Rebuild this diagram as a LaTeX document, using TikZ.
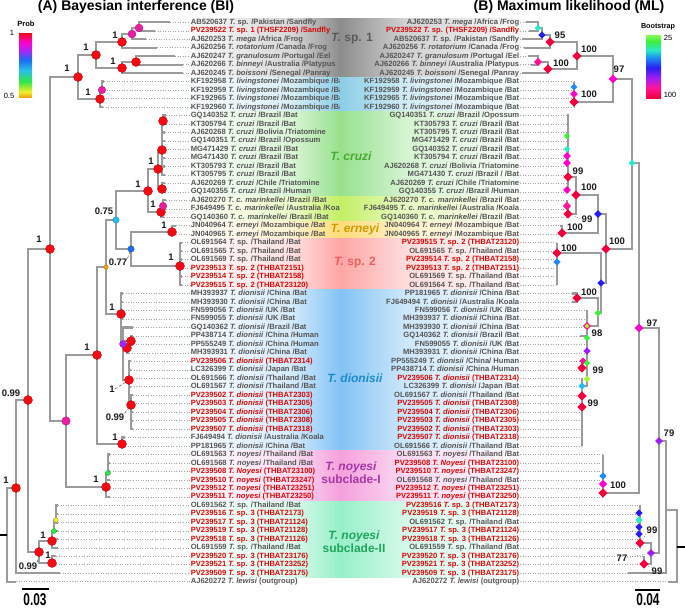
\documentclass[tikz,border=0pt]{standalone}
\usepackage{fontspec}
\setmainfont{Liberation Sans}
\usetikzlibrary{shapes.geometric}
\definecolor{brc}{RGB}{155,155,155}
\definecolor{ldc}{RGB}{165,165,165}
\definecolor{lbl}{RGB}{85,85,85}
\definecolor{lred}{RGB}{212,8,8}
\definecolor{vl}{RGB}{25,25,25}
\definecolor{dRed}{RGB}{245,10,20}
\definecolor{dPink}{RGB}{235,30,160}
\definecolor{dCyan}{RGB}{40,190,235}
\definecolor{dBlue}{RGB}{25,110,240}
\definecolor{dOrange}{RGB}{240,165,20}
\definecolor{dPurple}{RGB}{165,40,245}
\definecolor{dGreen}{RGB}{50,230,70}
\definecolor{dYellow}{RGB}{240,240,40}
\definecolor{mRed}{RGB}{240,0,60}
\definecolor{mPink}{RGB}{255,20,150}
\definecolor{mMag}{RGB}{255,0,200}
\definecolor{mBlue}{RGB}{40,30,245}
\definecolor{mAzure}{RGB}{30,140,245}
\definecolor{mCyan}{RGB}{40,235,200}
\definecolor{mGreen}{RGB}{60,240,60}
\definecolor{mLime}{RGB}{160,245,40}
\definecolor{mPurple}{RGB}{160,30,245}
\definecolor{bLime}{RGB}{140,250,90}
\definecolor{kSpA}{RGB}{140,140,140}
\definecolor{kLiv}{RGB}{140,205,230}
\definecolor{kCru}{RGB}{150,225,140}
\definecolor{kMar}{RGB}{195,240,100}
\definecolor{kErn}{RGB}{255,220,120}
\definecolor{kSpB}{RGB}{255,165,165}
\definecolor{kDio}{RGB}{130,195,245}
\definecolor{kNoA}{RGB}{245,160,220}
\definecolor{kNoB}{RGB}{150,240,200}
\definecolor{gSpA}{RGB}{90,90,90}
\definecolor{gCru}{RGB}{70,170,50}
\definecolor{gErn}{RGB}{205,155,0}
\definecolor{gSpB}{RGB}{240,95,95}
\definecolor{gDio}{RGB}{25,140,200}
\definecolor{gNoA}{RGB}{165,55,165}
\definecolor{gNoB}{RGB}{30,165,90}
\pgfdeclareverticalshading{probbar}{100bp}{color(0bp)=(dOrange); color(25bp)=(dOrange); color(29bp)=(dYellow); color(37bp)=(dGreen); color(46bp)=(dCyan); color(54bp)=(dBlue); color(61bp)=(dPurple); color(68bp)=(mMag); color(75bp)=(dRed); color(100bp)=(dRed)}
\pgfdeclareverticalshading{bootbar}{100bp}{color(0bp)=(mRed); color(25bp)=(mRed); color(33bp)=(mPink); color(41bp)=(mPurple); color(49bp)=(mBlue); color(57bp)=(mAzure); color(63bp)=(mCyan); color(70bp)=(mGreen); color(75bp)=(bLime); color(100bp)=(bLime)}
\pgfmathdeclarefunction{rowy}{1}{\pgfmathparse{22.3+(#1-1)*8.476}}
\tikzset{
 leaf/.style={font=\fontsize{7.6}{8}\selectfont\bfseries, inner sep=0.6pt, text height=5.6pt, text depth=1.6pt},
 leader/.style={draw=ldc, line width=0.55pt, dotted},
 branch/.style={draw=brc, line width=2.3pt},
 bidot/.style={circle, fill=#1, draw=#1!70!black, line width=0.3pt, inner sep=0pt, minimum size=9pt},
 mldia/.style={diamond, fill=#1, inner sep=0pt, minimum size=9.5pt},
 vlab/.style={font=\fontsize{9.5}{10}\selectfont\bfseries, text=vl, inner sep=0pt},
 grp/.style={font=\fontsize{12}{13}\selectfont\bfseries, inner sep=0pt, align=center},
 ttl/.style={font=\fontsize{14}{15}\selectfont\bfseries, inner sep=0pt},
 cbl/.style={font=\fontsize{7.5}{8}\selectfont, inner sep=0pt},
 sbl/.style={font=\fontsize{17}{18}\selectfont\bfseries, inner sep=0pt},
 nlead/.style={draw=black!80, line width=0.4pt, densely dashed},
 mlead/.style={draw=black!80, line width=0.5pt, dotted},
}
\newcommand\leftleaf[4]{%
 \coordinate (Lt#1) at (#2,{rowy(#1)});
 \node[leaf,text=#3,anchor=west] (LL#1) at (190,{rowy(#1)}) {#4};
 \draw[leader] (Lt#1) -- (LL#1.west);}
\newcommand\rightleaf[4]{%
 \coordinate (Rt#1) at (#2,{rowy(#1)});
 \node[leaf,text=#3,anchor=east] (RL#1) at (520,{rowy(#1)}) {#4};
 \draw[leader] (RL#1.east) -- (Rt#1);}
\newcommand\lband[3]{%
 \shade[left color=white,right color=#3!35] (178,{rowy(#1)-4.24}) rectangle (292,{rowy(#2)+4.24});
 \shade[left color=#3!35,right color=#3] (292,{rowy(#1)-4.24}) rectangle (340.5,{rowy(#2)+4.24});}
\newcommand\rband[3]{%
 \shade[left color=#3,right color=#3!40] (340,{rowy(#1)-4.24}) rectangle (405,{rowy(#2)+4.24});
 \shade[left color=#3!40,right color=#3!6] (405,{rowy(#1)-4.24}) rectangle (521,{rowy(#2)+4.24});}
\newcommand\kids[2]{\foreach \kk in {#2}{\draw[branch] (#1) |- (\kk);}}
\newcommand\kidrange[4]{\foreach \kk in {#3,...,#4}{\draw[branch] (#1) |- (#2\kk);}}
\begin{document}
\begin{tikzpicture}[x=1pt,y=-1pt]
\useasboundingbox (0,0) rectangle (685,608);
% ---------- left bands
\lband{1}{7}{kSpA}\lband{8}{11}{kLiv}\lband{12}{21}{kCru}\lband{22}{24}{kMar}\lband{25}{26}{kErn}
\lband{27}{32}{kSpB}\lband{33}{51}{kDio}\lband{52}{57}{kNoA}\lband{58}{66}{kNoB}
% ---------- left leaves
\leftleaf{1}{170}{lbl}{AB520637 \textit{T.} sp. /Pakistan /Sandfly}
\leftleaf{2}{155}{lred}{PV239522 \textit{T.} sp. 1 (THSF2209) /Sandfly}
\leftleaf{3}{146}{lbl}{AJ620253 \textit{T. mega} /Africa /Frog}
\leftleaf{4}{157}{lbl}{AJ620256 \textit{T. rotatorium} /Canada /Frog}
\leftleaf{5}{175}{lbl}{AJ620247 \textit{T. granulosum} /Portugal /Eel}
\leftleaf{6}{183}{lbl}{AJ620266 \textit{T. binneyi} /Australia /Platypus}
\leftleaf{7}{183}{lbl}{AJ620245 \textit{T. boissoni} /Senegal /Panray}
\leftleaf{8}{104}{lbl}{KF192958 \textit{T. livingstonei} /Mozambique /Bat}
\leftleaf{9}{104}{lbl}{KF192959 \textit{T. livingstonei} /Mozambique /Bat}
\leftleaf{10}{103}{lbl}{KF192965 \textit{T. livingstonei} /Mozambique /Bat}
\leftleaf{11}{103}{lbl}{KF192960 \textit{T. livingstonei} /Mozambique /Bat}
\leftleaf{12}{166}{lbl}{GQ140352 \textit{T. cruzi} /Brazil /Bat}
\leftleaf{13}{166}{lbl}{KT305794 \textit{T. cruzi} /Brazil /Bat}
\leftleaf{14}{165}{lbl}{AJ620268 \textit{T. cruzi} /Bolivia /Triatomine}
\leftleaf{15}{165}{lbl}{GQ140351 \textit{T. cruzi} /Brazil /Opossum}
\leftleaf{16}{165}{lbl}{MG471429 \textit{T. cruzi} /Brazil /Bat}
\leftleaf{17}{165}{lbl}{MG471430 \textit{T. cruzi} /Brazil /Bat}
\leftleaf{18}{165}{lbl}{KT305793 \textit{T. cruzi} /Brazil /Bat}
\leftleaf{19}{165}{lbl}{KT305795 \textit{T. cruzi} /Brazil /Bat}
\leftleaf{20}{165}{lbl}{AJ620269 \textit{T. cruzi} /Chile /Triatomine}
\leftleaf{21}{165}{lbl}{GQ140355 \textit{T. cruzi} /Brazil /Human}
\leftleaf{22}{166}{lbl}{AJ620270 \textit{T. c. marinkellei} /Brazil /Bat}
\leftleaf{23}{166}{lbl}{FJ649495 \textit{T. c. marinkellei} /Australia /Koala}
\leftleaf{24}{164}{lbl}{GQ140360 \textit{T. c. marinkellei} /Brazil /Bat}
\leftleaf{25}{176}{lbl}{JN040964 \textit{T. erneyi} /Mozambique /Bat}
\leftleaf{26}{176}{lbl}{JN040965 \textit{T. erneyi} /Mozambique /Bat}
\leftleaf{27}{182}{lbl}{OL691564 \textit{T.} sp. /Thailand /Bat}
\leftleaf{28}{182}{lbl}{OL691565 \textit{T.} sp. /Thailand /Bat}
\leftleaf{29}{182}{lbl}{OL691569 \textit{T.} sp. /Thailand /Bat}
\leftleaf{30}{182}{lred}{PV239513 \textit{T.} sp. 2 (THBAT2151)}
\leftleaf{31}{182}{lred}{PV239514 \textit{T.} sp. 2 (THBAT2158)}
\leftleaf{32}{182}{lred}{PV239515 \textit{T.} sp. 2 (THBAT23120)}
\leftleaf{33}{123}{lbl}{MH393937 \textit{T. dionisii} /China /Bat}
\leftleaf{34}{123}{lbl}{MH393930 \textit{T. dionisii} /China /Bat}
\leftleaf{35}{123}{lbl}{FN599056 \textit{T. dionisii} /UK /Bat}
\leftleaf{36}{123}{lbl}{FN599055 \textit{T. dionisii} /UK /Bat}
\leftleaf{37}{133}{lbl}{GQ140362 \textit{T. dionisii} /Brazil /Bat}
\leftleaf{38}{133}{lbl}{PP438714 \textit{T. dionisii} /China /Human}
\leftleaf{39}{133}{lbl}{PP555249 \textit{T. dionisii} /China /Human}
\leftleaf{40}{129}{lbl}{MH393931 \textit{T. dionisii} /China /Bat}
\leftleaf{41}{131}{lred}{PV239506 \textit{T. dionisii} (THBAT2314)}
\leftleaf{42}{131}{lbl}{LC326399 \textit{T. dionisii} /Japan /Bat}
\leftleaf{43}{131}{lbl}{OL691566 \textit{T. dionisii} /Thailand /Bat}
\leftleaf{44}{131}{lbl}{OL691567 \textit{T. dionisii} /Thailand /Bat}
\leftleaf{45}{133}{lred}{PV239502 \textit{T. dionisii} (THBAT2303)}
\leftleaf{46}{133}{lred}{PV239503 \textit{T. dionisii} (THBAT2305)}
\leftleaf{47}{133}{lred}{PV239504 \textit{T. dionisii} (THBAT2306)}
\leftleaf{48}{133}{lred}{PV239505 \textit{T. dionisii} (THBAT2308)}
\leftleaf{49}{133}{lred}{PV239507 \textit{T. dionisii} (THBAT2318)}
\leftleaf{50}{125}{lbl}{FJ649494 \textit{T. dionisii} /Australia /Koala}
\leftleaf{51}{125}{lbl}{PP181965 \textit{T. dionisii} /China /Bat}
\leftleaf{52}{110}{lbl}{OL691563 \textit{T. noyesi} /Thailand /Bat}
\leftleaf{53}{110}{lbl}{OL691568 \textit{T. noyesi} /Thailand /Bat}
\leftleaf{54}{110}{lred}{PV239508 \textit{T. Noyesi} (THBAT23100)}
\leftleaf{55}{110}{lred}{PV239510 \textit{T. noyesi} (THBAT23247)}
\leftleaf{56}{110}{lred}{PV239512 \textit{T. noyesi} (THBAT23251)}
\leftleaf{57}{110}{lred}{PV239511 \textit{T. noyesi} (THBAT23250)}
\leftleaf{58}{58}{lbl}{OL691562 \textit{T.} sp. /Thailand /Bat}
\leftleaf{59}{58}{lred}{PV239516 \textit{T.} sp. 3 (THBAT2173)}
\leftleaf{60}{58}{lred}{PV239517 \textit{T.} sp. 3 (THBAT21124)}
\leftleaf{61}{58}{lred}{PV239519 \textit{T.} sp. 3 (THBAT21128)}
\leftleaf{62}{58}{lred}{PV239518 \textit{T.} sp. 3 (THBAT21126)}
\leftleaf{63}{58}{lbl}{OL691559 \textit{T.} sp. /Thailand /Bat}
\leftleaf{64}{56}{lred}{PV239520 \textit{T.} sp. 3 (THBAT23176)}
\leftleaf{65}{56}{lred}{PV239521 \textit{T.} sp. 3 (THBAT23252)}
\leftleaf{66}{60}{lred}{PV239509 \textit{T.} sp. 3 (THBAT23175)}
\leftleaf{67}{16}{lbl}{AJ620272 \textit{T. lewisi} (outgroup)}
% ---------- right bands
\rband{1}{7}{kSpA}\rband{8}{11}{kLiv}\rband{12}{21}{kCru}\rband{22}{24}{kMar}\rband{25}{26}{kErn}
\rband{27}{32}{kSpB}\rband{33}{51}{kDio}\rband{52}{57}{kNoA}\rband{58}{66}{kNoB}
% ---------- right leaves
\rightleaf{1}{526}{lbl}{AJ620253 \textit{T. mega} /Africa /Frog}
\rightleaf{2}{529}{lred}{PV239522 \textit{T.} sp. (THSF2209) /Sandfly}
\rightleaf{3}{522}{lbl}{AB520637 \textit{T.} sp. /Pakistan /Sandfly}
\rightleaf{4}{524}{lbl}{AJ620256 \textit{T. rotatorium} /Canada /Frog}
\rightleaf{5}{528}{lbl}{AJ620247 \textit{T. granulosum} /Portugal /Eel}
\rightleaf{6}{531}{lbl}{AJ620266 \textit{T. binneyi} /Australia /Platypus}
\rightleaf{7}{522}{lbl}{AJ620245 \textit{T. boissoni} /Senegal /Panray}
\rightleaf{8}{574}{lbl}{KF192958 \textit{T. livingstonei} /Mozambique /Bat}
\rightleaf{9}{574}{lbl}{KF192959 \textit{T. livingstonei} /Mozambique /Bat}
\rightleaf{10}{574}{lbl}{KF192965 \textit{T. livingstonei} /Mozambique /Bat}
\rightleaf{11}{574}{lbl}{KF192960 \textit{T. livingstonei} /Mozambique /Bat}
\rightleaf{12}{567}{lbl}{GQ140351 \textit{T. cruzi} /Brazil /Opossum}
\rightleaf{13}{567}{lbl}{KT305793 \textit{T. cruzi} /Brazil /Bat}
\rightleaf{14}{567}{lbl}{KT305795 \textit{T. cruzi} /Brazil /Bat}
\rightleaf{15}{567}{lbl}{MG471429 \textit{T. cruzi} /Brazil /Bat}
\rightleaf{16}{567}{lbl}{GQ140352 \textit{T. cruzi} /Brazil /Bat}
\rightleaf{17}{567}{lbl}{KT305794 \textit{T. cruzi} /Brazil /Bat}
\rightleaf{18}{567}{lbl}{AJ620268 \textit{T. cruzi} /Bolivia /Triatomine}
\rightleaf{19}{567}{lbl}{MG471430 \textit{T. cruzi} /Brazil / /Bat}
\rightleaf{20}{567}{lbl}{AJ620269 \textit{T. cruzi} /Chile /Triatomine}
\rightleaf{21}{567}{lbl}{GQ140355 \textit{T. cruzi} /Brazil /Human}
\rightleaf{22}{567}{lbl}{AJ620270 \textit{T. c. marinkellei} /Brazil /Bat}
\rightleaf{23}{567}{lbl}{FJ649495 \textit{T. c. marinkellei} /Australia /Koala}
\rightleaf{24}{567}{lbl}{GQ140360 \textit{T. c. marinkellei} /Brazil /Bat}
\rightleaf{25}{560}{lbl}{JN040964 \textit{T. erneyi} /Mozambique /Bat}
\rightleaf{26}{560}{lbl}{JN040965 \textit{T. erneyi} /Mozambique /Bat}
\rightleaf{27}{557}{lred}{PV239515 \textit{T.} sp. 2 (THBAT23120)}
\rightleaf{28}{557}{lbl}{OL691565 \textit{T.} sp. /Thailand /Bat}
\rightleaf{29}{557}{lred}{PV239514 \textit{T.} sp. 2 (THBAT2158)}
\rightleaf{30}{557}{lred}{PV239513 \textit{T.} sp. 2 (THBAT2151)}
\rightleaf{31}{557}{lbl}{OL691569 \textit{T.} sp. /Thailand /Bat}
\rightleaf{32}{557}{lbl}{OL691564 \textit{T.} sp. /Thailand /Bat}
\rightleaf{33}{572}{lbl}{PP181965 \textit{T. dionisii} /China /Bat}
\rightleaf{34}{572}{lbl}{FJ649494 \textit{T. dionisii} /Australia /Koala}
\rightleaf{35}{587}{lbl}{FN599056 \textit{T. dionisii} /UK /Bat}
\rightleaf{36}{587}{lbl}{MH393937 \textit{T. dionisii} /China /Bat}
\rightleaf{37}{587}{lbl}{MH393930 \textit{T. dionisii} /China /Bat}
\rightleaf{38}{580}{lbl}{GQ140362 \textit{T. dionisii} /Brazil /Bat}
\rightleaf{39}{587}{lbl}{FN599055 \textit{T. dionisii} /UK /Bat}
\rightleaf{40}{587}{lbl}{MH393931 \textit{T. dionisii} /China /Bat}
\rightleaf{41}{583}{lbl}{PP555249 \textit{T. dionisii} /China/ Human}
\rightleaf{42}{583}{lbl}{PP438714 \textit{T. dionisii} /China /Human}
\rightleaf{43}{582}{lred}{PV239506 \textit{T. dionisii} (THBAT2314)}
\rightleaf{44}{582}{lbl}{LC326399 \textit{T. dionisii} /Japan /Bat}
\rightleaf{45}{582}{lbl}{OL691567 \textit{T. dionisii} /Thailand /Bat}
\rightleaf{46}{582}{lred}{PV239505 \textit{T. dionisii} (THBAT2308)}
\rightleaf{47}{582}{lred}{PV239504 \textit{T. dionisii} (THBAT2306)}
\rightleaf{48}{582}{lred}{PV239503 \textit{T. dionisii} (THBAT2305)}
\rightleaf{49}{582}{lred}{PV239502 \textit{T. dionisii} (THBAT2303)}
\rightleaf{50}{582}{lred}{PV239507 \textit{T. dionisii} (THBAT2318)}
\rightleaf{51}{582}{lbl}{OL691566 \textit{T. dionisii} /Thailand /Bat}
\rightleaf{52}{603}{lbl}{OL691563 \textit{T. noyesi} /Thailand /Bat}
\rightleaf{53}{603}{lred}{PV239508 \textit{T. Noyesi} (THBAT23100)}
\rightleaf{54}{603}{lred}{PV239510 \textit{T. noyesi} (THBAT23247)}
\rightleaf{55}{603}{lbl}{OL691568 \textit{T. noyesi} /Thailand /Bat}
\rightleaf{56}{603}{lred}{PV239512 \textit{T. noyesi} (THBAT23251)}
\rightleaf{57}{603}{lred}{PV239511 \textit{T. noyesi} (THBAT23250)}
\rightleaf{58}{640}{lred}{PV239516 \textit{T.} sp. 3 (THBAT2173)}
\rightleaf{59}{640}{lred}{PV239519 \textit{T.} sp. 3 (THBAT21128)}
\rightleaf{60}{640}{lbl}{OL691562 \textit{T.} sp. /Thailand /Bat}
\rightleaf{61}{640}{lred}{PV239517 \textit{T.} sp. 3 (THBAT21124)}
\rightleaf{62}{640}{lred}{PV239518 \textit{T.} sp. 3 (THBAT21126)}
\rightleaf{63}{640}{lbl}{OL691559 \textit{T.} sp. /Thailand /Bat}
\rightleaf{64}{644}{lred}{PV239520 \textit{T.} sp. 3 (THBAT23176)}
\rightleaf{65}{644}{lred}{PV239521 \textit{T.} sp. 3 (THBAT23252)}
\rightleaf{66}{628}{lred}{PV239509 \textit{T.} sp. 3 (THBAT23175)}
\rightleaf{67}{668}{lbl}{AJ620272 \textit{T. lewisi} (outgroup)}
% ---------- group labels
\node[grp,text=gSpA] (gA) at (352,39) {\textit{T.} sp. 1};
\node[grp,text=gCru] (gC) at (351,156) {\textit{T. cruzi}};
\node[grp,text=gErn] (gE) at (355,229) {\textit{T. erneyi}};
\node[grp,text=gSpB] (gS) at (355,263) {\textit{T.} sp. 2};
\node[grp,text=gDio] (gD) at (355,378) {\textit{T. dionisii}};
\node[grp,text=gNoA] (gN1) at (351,473) {\textit{T. noyesi}\\subclade-I};
\node[grp,text=gNoB] (gN2) at (354,542) {\textit{T. noyesi}\\subclade-II};
% ---------- left tree nodes
\coordinate (b1) at (139,28); \coordinate (b2) at (132,34); \coordinate (b3) at (122,42);
\coordinate (b4) at (136,62); \coordinate (b5) at (122,68); \coordinate (b6) at (96,55);
\coordinate (bL2) at (102,90); \coordinate (bL) at (100,99); \coordinate (b7) at (78,77);
\coordinate (bc1) at (163,121); \coordinate (bc2) at (162,150); \coordinate (bc4) at (162,189);
\coordinate (bc3) at (158,169); \coordinate (bm2) at (163,206); \coordinate (bm) at (161,212);
\coordinate (bcm) at (148,191); \coordinate (be) at (172,232); \coordinate (bs2) at (180,266);
\coordinate (b077) at (131,249); \coordinate (b075) at (116,220);
\coordinate (bd3) at (131,405); \coordinate (bd2) at (129,380); \coordinate (bdr1) at (131,341);
\coordinate (bdr2) at (127,348); \coordinate (bd1) at (123,344); \coordinate (bd0) at (121,314);
\coordinate (bo) at (106,267); \coordinate (bd4) at (122,444); \coordinate (b1c) at (97,355);
\coordinate (bng) at (108,473); \coordinate (bn) at (106,487); \coordinate (bpk) at (66,421);
\coordinate (b1b) at (50,249); \coordinate (by) at (56,520); \coordinate (bg) at (54,531);
\coordinate (bs3a) at (52,541); \coordinate (bs3b) at (52,563); \coordinate (b099s) at (39,552);
\coordinate (b099) at (28,400); \coordinate (bR1) at (16,488); \coordinate (broot) at (7,535);
\coordinate (bstub) at (0,535);
% ---------- right tree nodes
\coordinate (Sc) at (538,28); \coordinate (Sb) at (542,35); \coordinate (S95) at (550,42);
\coordinate (Sp) at (538,62); \coordinate (S100b) at (548,69); \coordinate (S100a) at (577,56);
\coordinate (Lb) at (574,87); \coordinate (Lp) at (574,94); \coordinate (L) at (574,102);
\coordinate (P97a) at (613,79); \coordinate (Cr99) at (568,177); \coordinate (Mkp) at (567,206);
\coordinate (Mk99) at (568,214); \coordinate (M100) at (576,195); \coordinate (E100) at (562,233);
\coordinate (B1) at (598,214); \coordinate (Sp2b) at (557,262); \coordinate (Sp2) at (557,253);
\coordinate (D100) at (577,298); \coordinate (Dn98) at (587,326); \coordinate (Dg) at (587,338);
\coordinate (Dp) at (587,351); \coordinate (Dg2) at (587,363); \coordinate (Dr) at (582,368);
\coordinate (Dg3) at (587,379); \coordinate (Dc) at (582,386); \coordinate (Dr2) at (582,396);
\coordinate (Dr3) at (582,407); \coordinate (G313) at (598,313); \coordinate (B2) at (601,283);
\coordinate (R100) at (606,249); \coordinate (Ncb) at (603,476); \coordinate (Np) at (603,484);
\coordinate (Nr) at (603,493); \coordinate (Cy) at (632,163); \coordinate (P97b) at (639,328);
\coordinate (Sr1) at (640,543); \coordinate (Sr2) at (644,564); \coordinate (S77) at (651,553);
\coordinate (P79) at (659,441); \coordinate (A) at (666,510); \coordinate (Root) at (677,547);
\coordinate (rstub) at (685,547);
% ---------- left branches
\kids{b1}{Lt1,Lt2}\kids{b2}{b1,Lt3}\kids{b3}{b2,Lt4}\kids{b4}{Lt5,Lt6}\kids{b5}{b4,Lt7}
\kids{b6}{b3,b5}\kids{bL2}{Lt8,Lt9}\kids{bL}{bL2,Lt10,Lt11}\kids{b7}{b6,bL}
\kids{bc1}{Lt12,Lt13}\kids{bc2}{bc1}\kidrange{bc2}{Lt}{14}{19}\kids{bc4}{Lt20,Lt21}
\kids{bc3}{bc2,bc4}\kids{bm2}{Lt22,Lt23}\kids{bm}{bm2,Lt24}\kids{bcm}{bc3,bm}
\kids{be}{Lt25,Lt26}\kidrange{bs2}{Lt}{27}{32}\kids{b077}{be,bs2}\kids{b075}{bcm,b077}
\kidrange{bd3}{Lt}{45}{49}\kidrange{bd2}{Lt}{41}{44}\kids{bd2}{bd3}\kids{bdr1}{Lt38,Lt39}
\kids{bdr2}{Lt40}\kids{bd1}{Lt37,bdr1,bdr2,bd2}\kidrange{bd0}{Lt}{33}{36}\kids{bd0}{bd1}
\kids{bo}{b075,bd0}\kids{bd4}{Lt50,Lt51}\kids{b1c}{bo,bd4}
\kids{bng}{Lt52,Lt53,Lt54}\kids{bn}{bng,Lt55,Lt56,Lt57}\kids{bpk}{b1c,bn}\kids{b1b}{b7,bpk}
\kids{by}{Lt58,Lt59,Lt60}\kids{bg}{by,Lt61}\kids{bs3a}{bg,Lt62,Lt63}\kids{bs3b}{Lt64,Lt65}
\kids{b099s}{bs3a,bs3b}\kids{b099}{b1b,b099s}\kids{bR1}{b099,Lt66}\kids{broot}{bR1,Lt67}
\draw[line width=2pt] (bstub) -- (broot);
% ---------- right branches
\kids{Sc}{Rt1,Rt2}\kids{Sb}{Sc,Rt3}\kids{S95}{Sb,Rt4}\kids{Sp}{Rt5,Rt6}\kids{S100b}{Sp,Rt7}
\kids{S100a}{S95,S100b}\kids{Lb}{Rt8,Rt9}\kids{Lp}{Lb,Rt10}\kids{L}{Lp,Rt11}\kids{P97a}{S100a,L}
\kidrange{Cr99}{Rt}{12}{21}\kids{Mkp}{Rt22,Rt23}\kids{Mk99}{Mkp,Rt24}\kids{M100}{Cr99,Mk99}
\kids{E100}{Rt25,Rt26}\kids{B1}{M100,E100}\kidrange{Sp2b}{Rt}{29}{32}\kids{Sp2}{Rt27,Rt28,Sp2b}
\kids{D100}{Rt33,Rt34}\kids{Dn98}{Rt35,Rt36,Rt37,Dg}\kids{Dg}{Rt38,Dp}\kids{Dp}{Rt39,Rt40,Dg2}
\kids{Dg2}{Dr,Dg3}\kids{Dr}{Rt41,Rt42}\kids{Dg3}{Dc}\kids{Dc}{Rt43,Rt44,Dr2}\kids{Dr2}{Rt45,Dr3}
\kidrange{Dr3}{Rt}{46}{51}\kids{G313}{D100,Dn98}\kids{B2}{Sp2,G313}\kids{R100}{B1,B2}
\kidrange{Ncb}{Rt}{52}{55}\kids{Np}{Ncb,Rt56}\kids{Nr}{Np,Rt57}\kids{Cy}{P97a,R100}\kids{P97b}{Cy,Nr}
\kidrange{Sr1}{Rt}{58}{63}\kids{Sr2}{Rt64,Rt65}\kids{S77}{Sr1,Sr2}\kids{P79}{P97b,S77}
\kids{A}{P79,Rt66}\kids{Root}{A,Rt67}
\draw[line width=2pt] (Root) -- (rstub);
% ---------- value labels (BI)
\node[vlab] (va1) at (115,35) {1};
\node[vlab] (va2) at (86,47) {1};
\node[vlab] (va3) at (67,68) {1};
\node[vlab] (va4) at (113,61) {1};
\node[vlab] (va5) at (88,92) {1};
\node[vlab] (va6) at (39,239) {1};
\node[vlab] (va7) at (151,161) {1};
\node[vlab] (va8) at (138,184) {1};
\node[vlab] (va9) at (153,204) {1};
\node[vlab] (va10) at (104,211) {0.75};
\node[vlab] (va11) at (164,225) {1};
\node[vlab] (va12) at (118,262) {0.77};
\node[vlab] (va13) at (171,257) {1};
\node[vlab] (va14) at (112,307) {1};
\node[vlab] (va15) at (87,347) {1};
\node[vlab] (va16) at (112,389) {1};
\node[vlab] (va17) at (115,417) {0.99};
\node[vlab] (va18) at (115,437) {1};
\node[vlab] (va19) at (11,393) {0.99};
\node[vlab] (va20) at (96,479) {1};
\node[vlab] (va21) at (6,480) {1};
\node[vlab] (va22) at (43,535) {1};
\node[vlab] (va23) at (48,555) {1};
\node[vlab] (va24) at (28,566) {0.99};
\draw[nlead] (va12.north east) -- (b077);
\draw[nlead] (va16.east) -- (bd2);
\draw[nlead] (va17.north east) -- (bd3);
\draw[nlead] (va24.north east) -- (b099s);
% ---------- value labels (ML)
\node[vlab] (vb1) at (560,35) {95};
\node[vlab] (vb2) at (589,49) {100};
\node[vlab] (vb3) at (561,63) {100};
\node[vlab] (vb4) at (619,69) {97};
\node[vlab] (vb5) at (589,94) {100};
\node[vlab] (vb6) at (578,171) {99};
\node[vlab] (vb7) at (589,187) {100};
\node[vlab] (vb8) at (587,219) {99};
\node[vlab] (vb9) at (575,227) {100};
\node[vlab] (vb10) at (569,248) {100};
\node[vlab] (vb11) at (617,241) {100};
\node[vlab] (vb12) at (589,292) {100};
\node[vlab] (vb13) at (597,333) {98};
\node[vlab] (vb14) at (598,370) {99};
\node[vlab] (vb15) at (593,403) {99};
\node[vlab] (vb16) at (652,323) {97};
\node[vlab] (vb17) at (618,485) {100};
\node[vlab] (vb18) at (669,433) {79};
\node[vlab] (vb19) at (652,530) {99};
\node[vlab] (vb20) at (622,558) {77};
\node[vlab] (vb21) at (657,571) {99};
\draw[mlead] (Mk99) -- (vb8.west);
\draw[mlead] (vb20.east) -- (S77);
\draw[mlead] (Sr1) -- (vb19.south west);
\draw[mlead] (Sr2) -- (vb21.north west);
% ---------- BI dots
\foreach \n in {b3,b6,b4,b5,b7,bL,b1b,bc1,bc2,bc3,bc4,bcm,bm,be,bs2,bd0,bdr1,bdr2,bd2,bd3,b1c,bd4,b099,bn,bR1,bs3a,b099s,bs3b}
  {\node[bidot=dRed] (dot-\n) at (\n) {};}
\node[bidot=dPink,minimum size=8pt] (dot-b1) at (b1) {};
\node[bidot=dPink,minimum size=8pt] (dot-b2) at (b2) {};
\node[bidot=dPink,minimum size=7.5pt] (dot-bL2) at (bL2) {};
\node[bidot=dPink,minimum size=7.5pt] (dot-bm2) at (bm2) {};
\node[bidot=dPink,minimum size=8.5pt] (dot-bpk) at (bpk) {};
\node[bidot=dCyan,minimum size=6.5pt] (dot-b075) at (b075) {};
\node[bidot=dBlue,minimum size=6.5pt] (dot-b077) at (b077) {};
\node[bidot=dOrange,minimum size=4.5pt] (dot-bo) at (bo) {};
\node[bidot=dPurple,minimum size=7pt] (dot-bd1) at (bd1) {};
\node[bidot=dGreen,minimum size=5pt] (dot-bng) at (bng) {};
\node[bidot=dYellow,minimum size=4.5pt] (dot-by) at (by) {};
\node[bidot=dGreen,minimum size=5pt] (dot-bg) at (bg) {};
% ---------- ML diamonds
\node[mldia=mCyan,minimum size=7pt] (dm-Sc) at (Sc) {};
\node[mldia=mBlue,minimum size=7.5pt] (dm-Sb) at (Sb) {};
\node[mldia=mPink,minimum size=8.5pt] (dm-Sp) at (Sp) {};
\node[mldia=mAzure,minimum size=7pt] (dm-Lb) at (Lb) {};
\node[mldia=mMag,minimum size=8pt] (dm-Lp) at (Lp) {};
\node[mldia=mMag,minimum size=9pt] (dm-P97a) at (P97a) {};
\node[mldia=mGreen,minimum size=6.5pt] (cz1) at (567,136) {};
\node[mldia=mCyan,minimum size=6.5pt] (cz2) at (567,149) {};
\node[mldia=mMag,minimum size=8pt] (cz3) at (567,156) {};
\node[mldia=mMag,minimum size=8pt] (cz4) at (567,163) {};
\node[mldia=mMag,minimum size=8pt] (cz5) at (567,190) {};
\node[mldia=mPink,minimum size=8.5pt] (dm-Mkp) at (Mkp) {};
\node[mldia=mBlue,minimum size=8pt] (dm-B1) at (B1) {};
\node[mldia=mCyan,minimum size=7pt] (dm-Cy) at (Cy) {};
\node[mldia=mAzure,minimum size=7.5pt] (dm-Sp2b) at (Sp2b) {};
\node[mldia=mBlue,minimum size=7.5pt] (dm-B2) at (B2) {};
\node[mldia=mGreen,minimum size=7pt] (dm-G313) at (G313) {};
\node[mldia=mPink,minimum size=8.5pt] (dm-Dn98) at (Dn98) {};
\node[mldia=mLime,minimum size=5pt] (dm-Dn98i) at (Dn98) {};
\node[mldia=mGreen,minimum size=6.5pt] (dm-Dg) at (Dg) {};
\node[mldia=mPurple,minimum size=7.5pt] (dm-Dp) at (Dp) {};
\node[mldia=mPink,minimum size=7.5pt] (dpk) at (583,361) {};
\node[mldia=mGreen,minimum size=6.5pt] (dm-Dg2) at (Dg2) {};
\node[mldia=mLime,minimum size=6.5pt] (dm-Dg3) at (Dg3) {};
\node[mldia=dCyan,minimum size=7.5pt] (dm-Dc) at (Dc) {};
\node[mldia=mAzure,minimum size=7.5pt] (dm-Ncb) at (Ncb) {};
\node[mldia=mMag,minimum size=8.5pt] (dm-Np) at (Np) {};
\node[mldia=mMag,minimum size=9pt] (dm-P97b) at (P97b) {};
\node[mldia=mPurple,minimum size=8pt] (dm-P79) at (P79) {};
\node[mldia=mPurple,minimum size=8pt] (dm-S77) at (S77) {};
\node[mldia=mBlue,minimum size=7.5pt] (sq1) at (639,513) {};
\node[mldia=mCyan,minimum size=7.5pt] (sq2) at (639,520) {};
\node[mldia=mBlue,minimum size=7.5pt] (sq3) at (639,527) {};
\node[mldia=mBlue,minimum size=7.5pt] (sq4) at (639,534) {};
\foreach \n in {S95,S100b,S100a,L,Cr99,Mk99,M100,E100,R100,Sp2,D100,Dr,Dr2,Dr3,Nr,Sr1,Sr2}
  {\node[mldia=mRed] (dm-\n) at (\n) {};}
% ---------- titles
\node[ttl] (tA) at (136,7) {(A) Bayesian interference (BI)};
\node[ttl] (tB) at (569,7) {(B) Maximum likelihood (ML)};
% ---------- colour bars
\shade[shading=probbar] (19,33) rectangle (32,97);
\node[cbl,font=\fontsize{7.5}{8}\selectfont\bfseries] (pr) at (26,24) {Prob};
\node[cbl] (pr1) at (12,33) {1};
\node[cbl] (pr2) at (9,96) {0.5};
\shade[shading=bootbar] (646,35) rectangle (661,98);
\node[cbl,font=\fontsize{7.2}{8}\selectfont\bfseries] (bt) at (658,27) {Bootstrap};
\node[cbl] (bt1) at (668,38) {25};
\node[cbl] (bt2) at (670,95) {100};
% ---------- scale bars
\coordinate (sL1) at (22,589); \coordinate (sL2) at (49,589);
\coordinate (sR1) at (635,590); \coordinate (sR2) at (660,590);
\draw[line width=2pt] (sL1) -- (sL2);
\draw[line width=2pt] (sR1) -- (sR2);
\node[sbl] (sLt) at (35,600) {\scalebox{0.7}[1]{0.03}};
\node[sbl] (sRt) at (648,600) {\scalebox{0.7}[1]{0.04}};
\end{tikzpicture}
\end{document}
